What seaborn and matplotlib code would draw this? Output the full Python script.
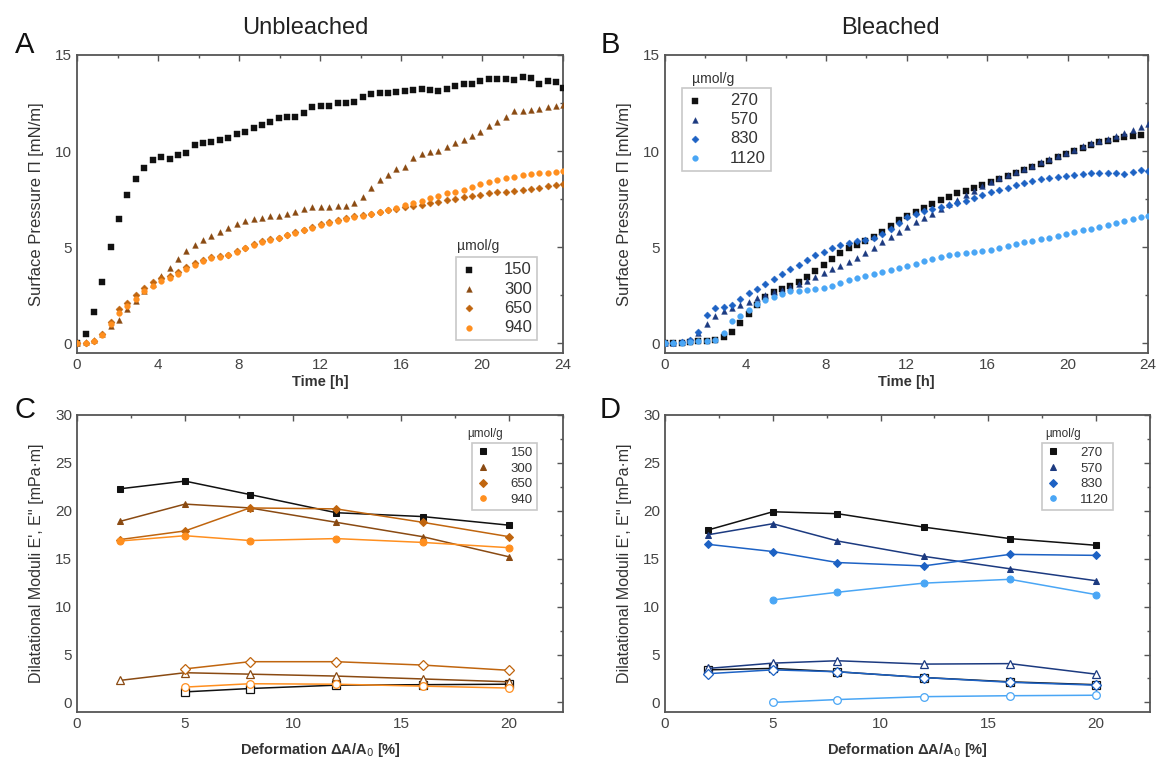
import numpy as np
import pandas as pd
import matplotlib
matplotlib.use("Agg")
import matplotlib.pyplot as plt
from matplotlib.ticker import AutoMinorLocator, MultipleLocator
import seaborn as sns

# ---------------- data ----------------
TIME_H = [0, 0.42, 0.83, 1.25, 1.66, 2.08, 2.49, 2.91, 3.32, 3.74,
          4.15, 4.57, 4.98, 5.40, 5.81, 6.23, 6.64, 7.06, 7.47, 7.89,
          8.30, 8.72, 9.13, 9.55, 9.96, 10.38, 10.79, 11.21, 11.62, 12.04,
          12.45, 12.87, 13.28, 13.70, 14.11, 14.53, 14.94, 15.36, 15.77, 16.19,
          16.60, 17.02, 17.43, 17.85, 18.26, 18.68, 19.09, 19.51, 19.92, 20.34,
          20.75, 21.17, 21.58, 22.00, 22.41, 22.83, 23.24, 23.66, 24.00]

U150 = [0, 0.5, 1.65, 3.2, 5.0, 6.45, 7.7, 8.55, 9.1, 9.55,
        9.7, 9.6, 9.8, 9.9, 10.3, 10.4, 10.5, 10.6, 10.7, 10.9,
        11.0, 11.2, 11.35, 11.5, 11.7, 11.8, 11.75, 12.0, 12.3, 12.35,
        12.35, 12.5, 12.5, 12.55, 12.8, 12.95, 13.0, 13.0, 13.1, 13.15,
        13.2, 13.25, 13.2, 13.15, 13.25, 13.4, 13.5, 13.5, 13.65, 13.75,
        13.75, 13.75, 13.7, 13.85, 13.8, 13.5, 13.65, 13.6, 13.3]
U300 = [0, 0.05, 0.2, 0.5, 0.9, 1.2, 1.8, 2.2, 2.7, 3.1,
        3.5, 3.9, 4.4, 4.8, 5.1, 5.4, 5.6, 5.8, 6.0, 6.2,
        6.35, 6.45, 6.5, 6.6, 6.65, 6.75, 6.85, 7.0, 7.1, 7.1,
        7.1, 7.15, 7.15, 7.3, 7.6, 8.1, 8.5, 8.75, 9.05, 9.2,
        9.65, 9.85, 9.95, 10.0, 10.2, 10.4, 10.6, 10.8, 11.0, 11.3,
        11.5, 11.8, 12.1, 12.1, 12.15, 12.2, 12.3, 12.35, 12.4]
U650 = [0, 0.0, 0.15, 0.5, 1.1, 1.8, 2.1, 2.5, 2.9, 3.2,
        3.4, 3.5, 3.7, 3.95, 4.2, 4.35, 4.5, 4.55, 4.6, 4.8,
        4.95, 5.15, 5.3, 5.45, 5.5, 5.65, 5.8, 5.9, 6.05, 6.2,
        6.3, 6.4, 6.5, 6.6, 6.7, 6.75, 6.85, 6.95, 7.0, 7.1,
        7.15, 7.2, 7.3, 7.35, 7.45, 7.5, 7.6, 7.65, 7.7, 7.8,
        7.85, 7.9, 7.95, 8.0, 8.05, 8.1, 8.2, 8.25, 8.3]
U940 = [0, 0.0, 0.1, 0.45, 1.0, 1.6, 1.95, 2.3, 2.7, 3.0,
        3.25, 3.4, 3.6, 3.85, 4.1, 4.3, 4.45, 4.5, 4.6, 4.75,
        4.95, 5.1, 5.25, 5.4, 5.5, 5.65, 5.75, 5.9, 6.0, 6.15,
        6.25, 6.35, 6.45, 6.55, 6.65, 6.75, 6.85, 6.95, 7.05, 7.2,
        7.3, 7.4, 7.55, 7.65, 7.8, 7.9, 8.0, 8.15, 8.3, 8.4,
        8.5, 8.6, 8.65, 8.75, 8.8, 8.85, 8.85, 8.9, 8.95]

B270 = [0, 0, 0, 0.05, 0.1, 0.15, 0.2, 0.35, 0.6, 1.05,
        1.55, 2.0, 2.4, 2.65, 2.85, 3.0, 3.2, 3.45, 3.75, 4.1,
        4.4, 4.7, 4.95, 5.1, 5.3, 5.55, 5.8, 6.1, 6.4, 6.65,
        6.85, 7.05, 7.25, 7.45, 7.6, 7.8, 7.95, 8.1, 8.25, 8.4,
        8.55, 8.7, 8.85, 9.0, 9.15, 9.35, 9.5, 9.7, 9.85, 10.0,
        10.15, 10.3, 10.45, 10.55, 10.65, 10.75, 10.8, 10.85, np.nan]
B570 = [0, 0, 0.05, 0.2, 0.55, 1.0, 1.4, 1.7, 1.85, 2.0,
        2.15, 2.35, 2.5, 2.65, 2.8, 2.95, 3.1, 3.25, 3.45, 3.65,
        3.85, 4.05, 4.25, 4.45, 4.7, 4.95, 5.25, 5.55, 5.8, 6.05,
        6.3, 6.5, 6.75, 7.0, 7.25, 7.45, 7.7, 7.95, 8.2, 8.4,
        8.6, 8.75, 8.9, 9.05, 9.25, 9.45, 9.6, 9.75, 9.9, 10.05,
        10.25, 10.4, 10.55, 10.65, 10.8, 10.95, 11.1, 11.25, 11.4]
B830 = [0, 0, 0.05, 0.2, 0.6, 1.5, 1.85, 1.9, 2.0, 2.3,
        2.6, 2.85, 3.1, 3.35, 3.6, 3.85, 4.1, 4.35, 4.6, 4.75,
        4.95, 5.1, 5.2, 5.3, 5.4, 5.5, 5.7, 5.95, 6.25, 6.55,
        6.75, 6.9, 7.0, 7.1, 7.2, 7.3, 7.4, 7.55, 7.7, 7.85,
        8.0, 8.1, 8.25, 8.35, 8.45, 8.55, 8.6, 8.65, 8.7, 8.75,
        8.8, 8.85, 8.85, 8.85, 8.85, 8.8, 8.9, 9.0, 8.95]
B1120 = [0, 0, 0, 0.05, 0.1, 0.15, 0.2, 0.55, 1.15, 1.45,
         1.75, 2.05, 2.25, 2.4, 2.55, 2.7, 2.75, 2.8, 2.85, 2.9,
         3.0, 3.15, 3.3, 3.4, 3.5, 3.6, 3.7, 3.8, 3.9, 4.0,
         4.15, 4.3, 4.4, 4.5, 4.6, 4.65, 4.7, 4.75, 4.8, 4.85,
         4.95, 5.05, 5.15, 5.25, 5.35, 5.45, 5.5, 5.6, 5.7, 5.8,
         5.9, 5.95, 6.05, 6.15, 6.25, 6.35, 6.45, 6.55, 6.6]

DEFORM = [2, 5, 8, 12, 16, 20]
# storage modulus E' (filled) and loss modulus E'' (open); None = not measured
C_E1 = {"150": [22.3, 23.1, 21.7, 19.8, 19.4, 18.5],
        "300": [18.9, 20.7, 20.3, 18.8, 17.3, 15.2],
        "650": [17.0, 17.9, 20.3, 20.2, 18.8, 17.3],
        "940": [16.85, 17.4, 16.9, 17.1, 16.7, 16.15]}
C_E2 = {"150": [None, 1.1, 1.45, 1.8, 1.85, 1.9],
        "300": [2.3, 3.1, 2.95, 2.75, 2.45, 2.15],
        "650": [None, 3.5, 4.25, 4.25, 3.9, 3.35],
        "940": [None, 1.6, 1.95, 1.9, 1.7, 1.5]}
D_E1 = {"270": [18.0, 19.9, 19.7, 18.3, 17.1, 16.4],
        "570": [17.5, 18.65, 16.85, 15.25, 13.95, 12.7],
        "830": [16.5, 15.75, 14.6, 14.25, 15.45, 15.35],
        "1120": [None, 10.7, 11.5, 12.45, 12.85, 11.25]}
D_E2 = {"270": [3.4, 3.55, 3.2, 2.6, 2.15, 1.85],
        "570": [3.55, 4.1, 4.35, 4.0, 4.05, 2.95],
        "830": [3.0, 3.4, 3.2, 2.6, 2.1, 1.8],
        "1120": [None, 0.0, 0.3, 0.6, 0.7, 0.75]}

UNBL_LABELS = ["150", "300", "650", "940"]
BL_LABELS = ["270", "570", "830", "1120"]
UNBL_COLORS = ["#111111", "#8a4a12", "#c0650e", "#ff8f1f"]
BL_COLORS = ["#111111", "#1c3a80", "#1d62c4", "#4aa6f5"]
MARKERS = ["s", "^", "D", "o"]

# ---------------- style ----------------
sns.set_theme(style="white")
plt.rcParams["font.family"] = ["Liberation Sans", "DejaVu Sans"]
plt.rcParams["axes.edgecolor"] = "#555555"
plt.rcParams["xtick.color"] = "#555555"
plt.rcParams["ytick.color"] = "#555555"
plt.rcParams["text.color"] = "#333333"

fig = plt.figure(figsize=(11.57, 7.64), dpi=100)
W, H = 1157, 764


def add_ax(l, r, t, b):
    return fig.add_axes([l / W, 1 - b / H, (r - l) / W, (b - t) / H])


axA = add_ax(77, 563, 55, 353)
axB = add_ax(665, 1148, 55, 353)
axC = add_ax(77, 563, 415, 712)
axD = add_ax(665, 1150, 415, 712)


def style_ax(ax, xmaj, ymaj):
    ax.xaxis.set_major_locator(MultipleLocator(xmaj))
    ax.yaxis.set_major_locator(MultipleLocator(ymaj))
    ax.xaxis.set_minor_locator(AutoMinorLocator(2))
    ax.yaxis.set_minor_locator(AutoMinorLocator(2))
    ax.tick_params(which="both", direction="in", top=True, right=True,
                   labelsize=11, labelcolor="#444444")
    ax.tick_params(which="major", length=4, width=1)
    ax.tick_params(which="minor", length=2.5, width=1)
    for s in ax.spines.values():
        s.set_linewidth(1.3)
        s.set_color("#555555")


def time_panel(ax, series, labels, colors, legend_pos, title_xy):
    for vals, lab, col, mk in zip(series, labels, colors, MARKERS):
        df = pd.DataFrame({"t": TIME_H, "v": vals}).dropna()
        sns.scatterplot(data=df, x="t", y="v", ax=ax, color=col, marker=mk,
                        s=17 if mk != "D" else 13, edgecolor=col, linewidth=0.3,
                        label=lab, zorder=3)
    ax.set_xlim(0, 24)
    ax.set_ylim(-0.5, 15)
    style_ax(ax, 4, 5)
    ax.set_xlabel("Time [h]", fontsize=10.5, fontweight="bold", color="#333333", labelpad=2)
    ax.set_ylabel("Surface Pressure \u03a0 [mN/m]", fontsize=12, color="#333333", labelpad=8)
    leg = ax.legend(loc=legend_pos[0], bbox_to_anchor=legend_pos[1], fontsize=12,
                    frameon=True, fancybox=False, edgecolor="#bbbbbb",
                    handletextpad=1.6, borderpad=0.3, labelspacing=0.25,
                    borderaxespad=0, markerscale=1.0, handlelength=1.0)
    leg.get_frame().set_linewidth(1.2)
    for t in leg.get_texts():
        t.set_color("#333333")
    ax.text(title_xy[0], title_xy[1], "\u00b5mol/g", transform=ax.transAxes,
            fontsize=10, color="#333333", ha="center", va="bottom")


def modulus_panel(ax, e1, e2, labels, colors, legend_anchor, title_xy):
    for lab, col, mk in zip(labels, colors, MARKERS):
        d2 = pd.DataFrame({"x": DEFORM, "y": e2[lab]}).dropna()
        sns.lineplot(data=d2, x="x", y="y", ax=ax, color=col, marker=mk,
                     markersize=5.5 if mk != "D" else 5, markerfacecolor="white",
                     markeredgecolor=col, markeredgewidth=0.9, linewidth=1.1,
                     zorder=2, legend=False)
    for lab, col, mk in zip(labels, colors, MARKERS):
        d1 = pd.DataFrame({"x": DEFORM, "y": e1[lab]}).dropna()
        sns.lineplot(data=d1, x="x", y="y", ax=ax, color=col, marker=mk,
                     markersize=5 if mk != "D" else 4.5, markerfacecolor=col,
                     markeredgecolor=col, linewidth=1.1, zorder=3, label=lab)
    ax.set_xlim(0, 22.5)
    ax.set_ylim(-1, 30)
    style_ax(ax, 5, 5)
    ax.set_xlabel("Deformation \u0394A/A$_0$ [%]", fontsize=10.5, fontweight="bold",
                  color="#333333", labelpad=7)
    ax.set_ylabel("Dilatational Moduli E', E'' [mPa\u00b7m]", fontsize=11.5,
                  color="#333333", labelpad=8)
    leg = ax.legend(loc="upper right", bbox_to_anchor=legend_anchor, fontsize=9.5,
                    frameon=True, fancybox=False, edgecolor="#bbbbbb",
                    handletextpad=1.6, borderpad=0.3, labelspacing=0.25,
                    borderaxespad=0, handlelength=1.0)
    leg.get_frame().set_linewidth(1.2)
    for line in leg.get_lines():
        line.set_linestyle("none")
        line.set_markersize(4.0)
    ax.text(title_xy[0], title_xy[1], "\u00b5mol/g", transform=ax.transAxes,
            fontsize=8.5, color="#333333", ha="center", va="bottom")


time_panel(axA, [U150, U300, U650, U940], UNBL_LABELS, UNBL_COLORS,
           ("lower right", (0.946, 0.044)), (0.825, 0.335))
time_panel(axB, [B270, B570, B830, B1120], BL_LABELS, BL_COLORS,
           ("upper left", (0.035, 0.889)), (0.1, 0.895))
modulus_panel(axC, C_E1, C_E2, UNBL_LABELS, UNBL_COLORS, (0.946, 0.906), (0.84, 0.915))
modulus_panel(axD, D_E1, D_E2, BL_LABELS, BL_COLORS, (0.924, 0.906), (0.82, 0.915))

fig.text(305 / W, 1 - 28 / H, "Unbleached", fontsize=17, ha="center", va="center", color="#222222")
fig.text(890 / W, 1 - 28 / H, "Bleached", fontsize=17, ha="center", va="center", color="#222222")
for letter, x, y in [("A", 25, 45), ("B", 610, 45), ("C", 25, 410), ("D", 610, 410)]:
    fig.text(x / W, 1 - y / H, letter, fontsize=21, ha="center", va="center", color="#111111")

fig.savefig("out.png", dpi=100, facecolor="white")
